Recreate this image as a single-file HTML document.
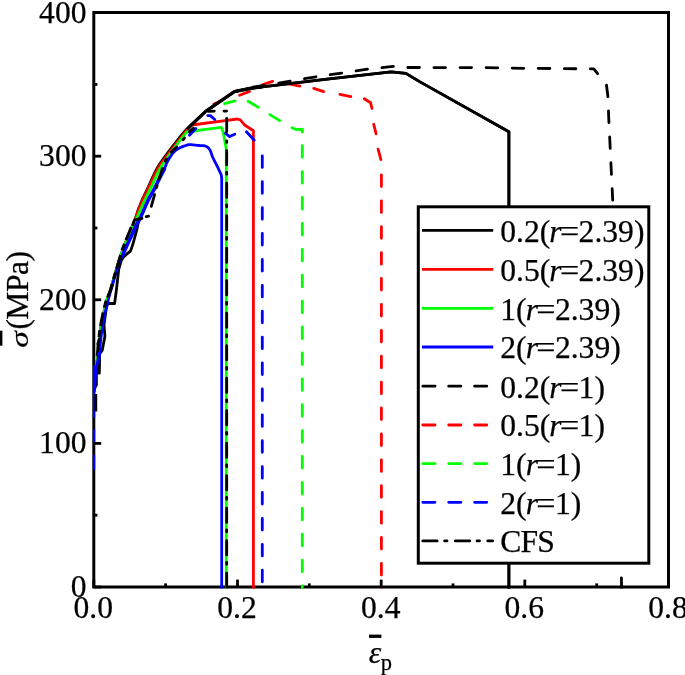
<!DOCTYPE html>
<html><head><meta charset="utf-8"><title>Stress-strain curves</title>
<style>
html,body{margin:0;padding:0;background:#fff;}
svg{display:block;}
text{font-family:"Liberation Serif",serif;font-size:31.6px;fill:#000;stroke:#000;stroke-width:0.25px;}
</style></head>
<body>
<svg width="685" height="675" viewBox="0 0 685 675">
<rect width="685" height="675" fill="#fff"/>
<defs><clipPath id="plotclip"><rect x="92.6" y="11" width="577.4" height="577.4"/></clipPath></defs>
<g id="axes">
<rect x="93.8" y="12.5" width="574.7" height="574.5" fill="none" stroke="#000" stroke-width="3.0"/>
<line x1="93.8" y1="587.0" x2="93.8" y2="579.6" stroke="#000" stroke-width="2.8"/>
<line x1="165.6" y1="587.0" x2="165.6" y2="583.4" stroke="#000" stroke-width="2.8"/>
<line x1="237.5" y1="587.0" x2="237.5" y2="579.6" stroke="#000" stroke-width="2.8"/>
<line x1="309.3" y1="587.0" x2="309.3" y2="583.4" stroke="#000" stroke-width="2.8"/>
<line x1="381.2" y1="587.0" x2="381.2" y2="579.6" stroke="#000" stroke-width="2.8"/>
<line x1="453.0" y1="587.0" x2="453.0" y2="583.4" stroke="#000" stroke-width="2.8"/>
<line x1="524.8" y1="587.0" x2="524.8" y2="579.6" stroke="#000" stroke-width="2.8"/>
<line x1="596.7" y1="587.0" x2="596.7" y2="583.4" stroke="#000" stroke-width="2.8"/>
<line x1="668.5" y1="587.0" x2="668.5" y2="579.6" stroke="#000" stroke-width="2.8"/>
<line x1="93.8" y1="587.0" x2="101.2" y2="587.0" stroke="#000" stroke-width="2.8"/>
<line x1="93.8" y1="515.2" x2="97.39999999999999" y2="515.2" stroke="#000" stroke-width="2.8"/>
<line x1="93.8" y1="443.4" x2="101.2" y2="443.4" stroke="#000" stroke-width="2.8"/>
<line x1="93.8" y1="371.6" x2="97.39999999999999" y2="371.6" stroke="#000" stroke-width="2.8"/>
<line x1="93.8" y1="299.8" x2="101.2" y2="299.8" stroke="#000" stroke-width="2.8"/>
<line x1="93.8" y1="228.0" x2="97.39999999999999" y2="228.0" stroke="#000" stroke-width="2.8"/>
<line x1="93.8" y1="156.2" x2="101.2" y2="156.2" stroke="#000" stroke-width="2.8"/>
<line x1="93.8" y1="84.4" x2="97.39999999999999" y2="84.4" stroke="#000" stroke-width="2.8"/>
<line x1="93.8" y1="12.6" x2="101.2" y2="12.6" stroke="#000" stroke-width="2.8"/>
</g>
<g id="curves" clip-path="url(#plotclip)">
<polyline points="94.5,388.0 96.4,385.0 96.4,372.7 99.3,373.0 99.6,360.2 99.6,354.0 102.2,350.4 104.9,336.2 104.0,325.0 106.0,310.0 107.5,303.5 114.6,303.5 116.4,290.0 118.7,269.3 121.3,260.4 123.5,256.9 130.6,250.9 133.1,243.5 136.9,229.4 139.0,218.7" fill="none" stroke="#000" stroke-width="2.8" stroke-linejoin="round" stroke-linecap="butt"/>
<polyline points="94.3,388.0 94.3,386.0 94.4,384.0 94.4,382.0 94.5,380.0 94.7,378.0 94.8,376.0 94.9,374.0 95.1,372.0 95.3,370.0 95.6,368.0 96.0,366.0 96.5,364.0 96.9,362.0 97.3,360.0 97.7,358.0 97.9,356.0 98.1,354.0 98.3,352.0 98.5,350.0 98.6,348.0 98.8,346.0 98.9,344.0 99.1,342.0 99.3,340.0 99.5,338.0 99.8,336.0 100.0,334.0 100.3,332.0 100.6,330.0 100.9,328.0 101.3,326.0 101.6,324.0 101.9,322.0 102.3,320.0 102.7,318.0 103.1,316.0 103.5,314.0 103.9,312.0 104.4,310.0 104.9,308.0 105.4,306.0 105.9,304.0 106.4,302.0 107.0,300.0 107.6,298.0 108.3,296.0 109.1,294.0 109.8,292.0 110.5,290.0 111.1,288.0 111.7,286.0 112.3,284.0 112.8,282.0 113.4,280.0 113.9,278.0 114.5,276.0 115.1,274.0 115.7,272.0 116.3,270.0 116.9,268.0 117.5,266.0 118.1,264.0 118.7,262.0 119.3,260.0 120.0,258.0 120.6,256.0 121.3,254.0 122.1,252.0 122.8,250.0 123.6,248.0 124.3,246.0 125.1,244.0 125.9,242.0 126.7,240.0 127.5,238.0 128.3,236.0 129.1,234.0 130.0,232.0 130.8,230.0 131.6,228.0 132.5,226.0 133.2,224.0 134.1,222.0 134.9,220.0 135.6,218.0 136.3,216.0 136.9,214.0 137.5,212.0 138.1,210.0 138.9,208.0 139.7,206.0 140.5,204.0 141.3,202.0 142.1,200.0 143.1,198.0 144.0,196.0 145.0,194.0 145.9,192.0 146.9,190.0 147.8,188.0 148.7,186.0 149.6,184.0 150.5,182.0 151.4,180.0 152.3,178.0 153.3,176.0 154.2,174.0 155.2,172.0 156.2,170.0 157.3,168.0 158.5,166.0 159.7,164.0 161.1,162.0 162.5,160.0 163.9,158.0 165.3,156.0 166.8,154.0 168.3,152.0 169.8,150.0 171.3,148.0 172.8,146.0 174.4,144.0 176.0,142.0 177.6,140.0 179.2,138.0 180.9,136.0 182.6,134.0 184.3,132.0 186.0,130.0 187.8,128.0 187.8,128.0 190.0,126.2 206.0,111.1 234.4,91.6 250.0,88.4 325.0,79.4 391.1,71.9 405.9,73.4 420.0,81.9 508.9,131.8 508.9,590.0" fill="none" stroke="#000" stroke-width="2.8" stroke-linejoin="round" stroke-linecap="butt"/>
<polyline points="94.3,388.0 94.3,386.0 94.4,384.0 94.4,382.0 94.5,380.0 94.7,378.0 94.8,376.0 94.9,374.0 95.1,372.0 95.3,370.0 95.6,368.0 96.0,366.0 96.5,364.0 96.9,362.0 97.3,360.0 97.7,358.0 97.9,356.0 98.1,354.0 98.3,352.0 98.5,350.0 98.6,348.0 98.8,346.0 98.9,344.0 99.1,342.0 99.3,340.0 99.5,338.0 99.8,336.0 100.0,334.0 100.3,332.0 100.6,330.0 100.9,328.0 101.3,326.0 101.6,324.0 101.9,322.0 102.3,320.0 102.7,318.0 103.1,316.0 103.5,314.0 103.9,312.0 104.4,310.0 104.9,308.0 105.4,306.0 105.9,304.0 106.4,302.0 107.0,300.0 107.6,298.0 108.3,296.0 109.1,294.0 109.8,292.0 110.5,290.0 111.1,288.0 111.7,286.0 112.3,284.0 112.8,282.0 113.4,280.0 113.9,278.0 114.5,276.0 115.1,274.0 115.7,272.0 116.3,270.0 116.9,268.0 117.5,266.0 118.1,264.0 118.7,262.0 119.3,260.0 120.0,258.0 120.6,256.0 121.3,254.0 122.1,252.0 122.8,250.0 123.6,248.0 124.3,246.0 125.1,244.0 125.9,242.0 126.7,240.0 127.5,238.0 128.3,236.0 129.1,234.0 130.0,232.0 130.8,230.0 131.6,228.0 132.5,226.0 133.3,224.0 134.1,222.0 135.0,220.0 135.7,218.0 136.4,216.0 137.0,214.0 137.7,212.0 138.4,210.0 139.1,208.0 140.0,206.0 140.8,204.0 141.6,202.0 142.5,200.0 143.5,198.0 144.5,196.0 145.5,194.0 146.5,192.0 147.5,190.0 148.4,188.0 149.4,186.0 150.3,184.0 151.3,182.0 152.2,180.0 153.1,178.0 154.1,176.0 155.1,174.0 156.1,172.0 157.2,170.0 158.3,168.0 159.5,166.0 160.8,164.0 162.2,162.0 163.6,160.0 165.1,158.0 166.6,156.0 168.1,154.0 169.6,152.0 171.1,150.0 172.7,148.0 174.3,146.0 175.8,144.0 177.5,142.0 179.0,140.0 180.6,138.0 182.1,136.0 183.7,134.0 185.3,132.0 187.0,130.0 187.0,130.0 192.0,125.0 225.0,120.6 237.3,119.0 240.3,119.8 245.0,125.3 253.4,130.7 253.4,590.0" fill="none" stroke="#f00" stroke-width="2.8" stroke-linejoin="round" stroke-linecap="butt"/>
<polyline points="94.3,388.0 94.3,386.0 94.4,384.0 94.4,382.0 94.5,380.0 94.7,378.0 94.8,376.0 94.9,374.0 95.1,372.0 95.3,370.0 95.6,368.0 96.0,366.0 96.5,364.0 96.9,362.0 97.3,360.0 97.7,358.0 97.9,356.0 98.1,354.0 98.3,352.0 98.5,350.0 98.6,348.0 98.8,346.0 98.9,344.0 99.1,342.0 99.3,340.0 99.5,338.0 99.8,336.0 100.0,334.0 100.3,332.0 100.6,330.0 100.9,328.0 101.3,326.0 101.6,324.0 101.9,322.0 102.3,320.0 102.7,318.0 103.1,316.0 103.5,314.0 103.9,312.0 104.4,310.0 104.9,308.0 105.4,306.0 105.9,304.0 106.4,302.0 107.0,300.0 107.6,298.0 108.3,296.0 109.1,294.0 109.8,292.0 110.5,290.0 111.1,288.0 111.7,286.0 112.3,284.0 112.8,282.0 113.4,280.0 113.9,278.0 114.5,276.0 115.1,274.0 115.7,272.0 116.3,270.0 116.9,268.0 117.5,266.0 118.1,264.0 118.7,262.0 119.3,260.0 120.0,258.0 120.6,256.0 121.3,254.0 122.1,252.0 122.8,250.0 123.6,248.0 124.3,246.0 125.1,244.0 125.9,242.0 126.7,240.0 127.5,238.0 128.3,236.0 129.1,234.0 130.0,232.0 130.8,230.0 131.6,228.0 132.5,226.0 133.5,224.0 134.7,222.0 135.8,220.0 136.8,218.0 137.7,216.0 138.6,214.0 139.5,212.0 140.4,210.0 141.3,208.0 142.1,206.0 143.0,204.0 144.0,202.0 144.9,200.0 145.9,198.0 146.9,196.0 147.8,194.0 148.8,192.0 149.8,190.0 150.8,188.0 151.7,186.0 152.6,184.0 153.5,182.0 154.5,180.0 155.4,178.0 156.3,176.0 157.3,174.0 158.3,172.0 159.4,170.0 160.5,168.0 161.7,166.0 162.9,164.0 164.3,162.0 165.7,160.0 167.1,158.0 168.5,156.0 169.9,154.0 171.4,152.0 172.8,150.0 174.3,148.0 175.8,146.0 177.3,144.0 178.8,142.0 180.3,140.0 181.9,138.0 183.5,136.0 185.1,134.0 186.7,132.0 186.7,132.0 189.6,132.1 200.0,130.1 221.3,127.3 223.1,131.9 224.9,141.3 226.3,149.6 226.3,590.0" fill="none" stroke="#0f0" stroke-width="2.8" stroke-linejoin="round" stroke-linecap="butt"/>
<polyline points="94.3,388.0 94.3,386.0 94.4,384.0 94.4,382.0 94.5,380.0 94.8,378.0 95.1,376.0 95.4,374.0 95.7,372.0 96.0,370.0 96.5,368.0 97.0,366.0 97.6,364.0 98.2,362.0 98.7,360.0 99.1,358.0 99.3,356.0 99.5,354.0 99.7,352.0 99.9,350.0 100.0,348.0 100.2,346.0 100.3,344.0 100.5,342.0 100.7,340.0 100.9,338.0 101.2,336.0 101.4,334.0 101.7,332.0 102.0,330.0 102.3,328.0 102.7,326.0 103.0,324.0 103.3,322.0 103.7,320.0 104.1,318.0 104.5,316.0 104.9,314.0 105.3,312.0 105.8,310.0 106.3,308.0 106.8,306.0 107.3,304.0 107.8,302.0 108.2,300.0 108.7,298.0 109.2,296.0 109.8,294.0 110.3,292.0 111.0,290.0 111.6,288.0 112.2,286.0 112.8,284.0 113.3,282.0 113.9,280.0 114.4,278.0 115.0,276.0 115.6,274.0 116.2,272.0 116.8,270.0 117.4,268.0 118.0,266.0 118.6,264.0 119.4,262.0 120.2,260.0 121.0,258.0 121.8,256.0 122.7,254.0 123.6,252.0 124.5,250.0 125.4,248.0 126.3,246.0 127.2,244.0 128.1,242.0 129.0,240.0 130.0,238.0 130.9,236.0 131.8,234.0 132.8,232.0 133.6,230.0 134.5,228.0 135.4,226.0 136.5,224.0 137.6,222.0 138.8,220.0 139.8,218.0 140.7,216.0 141.6,214.0 142.5,212.0 143.3,210.0 144.2,208.0 145.1,206.0 146.0,204.0 146.9,202.0 147.8,200.0 148.9,198.0 150.0,196.0 151.1,194.0 152.2,192.0 153.3,190.0 154.3,188.0 155.3,186.0 156.3,184.0 157.2,182.0 158.2,180.0 159.2,178.0 160.2,176.0 161.2,174.0 162.3,172.0 163.4,170.0 164.4,168.0 165.6,166.0 165.6,166.0 166.3,164.0 167.2,162.1 168.2,160.2 169.2,158.4 170.3,156.7 171.5,155.0 172.7,153.3 174.2,151.7 175.7,150.3 177.4,149.2 179.2,148.1 181.1,147.3 183.1,146.4 185.1,145.7 187.1,145.0 189.1,144.7 191.2,144.7 193.2,144.9 195.3,145.1 197.4,145.3 199.5,145.5 201.6,145.6 203.7,145.7 205.7,146.1 207.6,147.2 209.0,148.6 210.1,150.2 210.9,152.1 211.6,154.2 212.3,156.2 213.1,158.2 214.1,160.1 215.0,161.9 216.0,163.8 216.9,165.6 217.9,167.5 218.7,169.4 219.6,171.3 220.5,173.2 221.3,175.1 221.7,178.0 221.7,590.0" fill="none" stroke="#00f" stroke-width="2.8" stroke-linejoin="round" stroke-linecap="butt"/>
<polyline points="121.9,258.0 122.7,256.0 123.6,254.0 124.5,252.0 125.4,250.0 126.3,248.0 127.2,246.0 128.1,244.0 129.0,242.0 129.9,240.0 130.9,238.0 131.8,236.0 132.7,234.0 133.7,232.0 134.5,230.0 135.4,228.0 136.3,226.0 137.4,224.0 138.5,222.0 139.7,220.0 140.7,218.0 141.6,216.0 142.5,214.0 143.4,212.0 144.2,210.0 145.1,208.0 146.0,206.0 146.9,204.0 147.8,202.0 148.7,200.0 149.8,198.0 150.9,196.0 152.0,194.0 153.1,192.0 154.2,190.0 155.2,188.0 156.2,186.0 157.2,184.0 158.1,182.0 159.1,180.0 160.1,178.0 161.1,176.0 162.1,174.0 163.2,172.0 164.3,170.0 165.3,168.0 165.3,168.0" fill="none" stroke="#00f" stroke-width="2.8" stroke-linejoin="round" stroke-linecap="butt"/>
<polyline points="94.0,365.0 94.0,417.8" fill="none" stroke="#00f" stroke-width="2.3" stroke-linejoin="round" stroke-linecap="butt"/>
<polyline points="94.0,429.0 94.0,441.7" fill="none" stroke="#00f" stroke-width="2.3" stroke-linejoin="round" stroke-linecap="butt"/>
<polyline points="94.0,455.0 94.0,469.7" fill="none" stroke="#00f" stroke-width="2.3" stroke-linejoin="round" stroke-linecap="butt"/>
<polyline points="95.8,394.0 95.8,411.6" fill="none" stroke="#000" stroke-width="2.8" stroke-linejoin="round" stroke-linecap="butt"/>
<polyline points="98.5,359.7 98.5,374.0" fill="none" stroke="#000" stroke-width="2.8" stroke-linejoin="round" stroke-linecap="butt"/>
<polyline points="213.9,104.0 219.7,101.5" fill="none" stroke="#f00" stroke-width="2.8" stroke-linejoin="round" stroke-linecap="round"/>
<polyline points="239.6,95.3 249.6,91.4" fill="none" stroke="#f00" stroke-width="2.8" stroke-linejoin="round" stroke-linecap="round"/>
<polyline points="262.6,84.6 272.6,81.4" fill="none" stroke="#f00" stroke-width="2.8" stroke-linejoin="round" stroke-linecap="round"/>
<polyline points="288.6,83.8 299.9,86.2" fill="none" stroke="#f00" stroke-width="2.8" stroke-linejoin="round" stroke-linecap="round"/>
<polyline points="313.7,88.4 323.7,91.6" fill="none" stroke="#f00" stroke-width="2.8" stroke-linejoin="round" stroke-linecap="round"/>
<polyline points="339.9,94.3 350.8,96.6" fill="none" stroke="#f00" stroke-width="2.8" stroke-linejoin="round" stroke-linecap="round"/>
<polyline points="364.3,98.8 370.6,102.8 372.0,108.5" fill="none" stroke="#f00" stroke-width="2.8" stroke-linejoin="round" stroke-linecap="round"/>
<polyline points="373.7,124.3 376.1,133.9" fill="none" stroke="#f00" stroke-width="2.8" stroke-linejoin="round" stroke-linecap="round"/>
<polyline points="378.1,149.1 380.9,159.6" fill="none" stroke="#f00" stroke-width="2.8" stroke-linejoin="round" stroke-linecap="round"/>
<polyline points="381.4,174.9 381.4,590.0" fill="none" stroke="#f00" stroke-width="2.8" stroke-linejoin="round" stroke-linecap="round" stroke-dasharray="11.6 14.299999999999999" stroke-dashoffset="0.00"/>
<polyline points="224.5,103.7 235.1,100.9" fill="none" stroke="#0f0" stroke-width="2.8" stroke-linejoin="round" stroke-linecap="round"/>
<polyline points="248.1,101.3 258.2,107.3" fill="none" stroke="#0f0" stroke-width="2.8" stroke-linejoin="round" stroke-linecap="round"/>
<polyline points="269.8,114.6 279.7,120.6" fill="none" stroke="#0f0" stroke-width="2.8" stroke-linejoin="round" stroke-linecap="round"/>
<polyline points="291.9,127.8 295.7,129.4 302.3,129.5 302.3,132.1" fill="none" stroke="#0f0" stroke-width="2.8" stroke-linejoin="round" stroke-linecap="round"/>
<polyline points="302.3,145.7 302.3,590.0" fill="none" stroke="#0f0" stroke-width="2.8" stroke-linejoin="round" stroke-linecap="round" stroke-dasharray="11.6 14.299999999999999" stroke-dashoffset="0.00"/>
<polyline points="189.4,135.2 195.9,128.5" fill="none" stroke="#00f" stroke-width="2.8" stroke-linejoin="round" stroke-linecap="round"/>
<polyline points="207.8,115.6 210.4,115.6 214.8,119.5" fill="none" stroke="#00f" stroke-width="2.8" stroke-linejoin="round" stroke-linecap="round"/>
<polyline points="225.4,133.3 229.6,136.6 234.8,134.2" fill="none" stroke="#00f" stroke-width="2.8" stroke-linejoin="round" stroke-linecap="round"/>
<polyline points="246.5,131.7 254.2,140.3" fill="none" stroke="#00f" stroke-width="2.8" stroke-linejoin="round" stroke-linecap="round"/>
<polyline points="262.3,155.8 262.3,590.0" fill="none" stroke="#00f" stroke-width="2.8" stroke-linejoin="round" stroke-linecap="round" stroke-dasharray="11.6 14.299999999999999" stroke-dashoffset="0.00"/>
<polyline points="187.5,129.5 190.0,126.2 206.0,111.1 234.4,91.6 250.0,88.4 262.0,86.9" fill="none" stroke="#000" stroke-width="3.3" stroke-linejoin="round" stroke-linecap="butt"/>
<polyline points="234.4,91.6 250.0,88.4 325.0,79.4 391.1,71.9 405.9,73.4 420.0,81.9 508.9,131.8 508.9,590.0" fill="none" stroke="#000" stroke-width="2.8" stroke-linejoin="round" stroke-linecap="butt"/>
<polyline points="252.0,87.3 270.0,84.6 290.9,81.0 316.9,76.6 342.2,73.0 368.1,69.0 393.3,66.3 406.7,67.5 486.1,67.6 523.8,68.3 593.8,68.9 597.6,73.6" fill="none" stroke="#000" stroke-width="2.8" stroke-linejoin="round" stroke-linecap="round" stroke-dasharray="11.6 14.48" stroke-dashoffset="25.06"/>
<polyline points="606.5,85.2 608.0,97.1 608.6,115.0 612.7,200.0 613.5,230.0" fill="none" stroke="#000" stroke-width="2.8" stroke-linejoin="round" stroke-linecap="round" stroke-dasharray="11.6 14.299999999999999" stroke-dashoffset="0.00"/>
<polyline points="621.4,577.8 621.6,590.6" fill="none" stroke="#000" stroke-width="2.8" stroke-linejoin="round" stroke-linecap="round"/>
<polyline points="97.2,356.0 97.4,354.0 97.6,352.0 97.8,350.0 97.9,348.0 98.1,346.0 98.2,344.0 98.4,342.0 98.6,340.0 98.8,338.0 99.1,336.0 99.3,334.0 99.6,332.0 99.9,330.0 100.2,328.0 100.6,326.0 100.9,324.0 101.2,322.0 101.6,320.0 102.0,318.0 102.4,316.0 102.8,314.0 103.2,312.0 103.7,310.0 104.2,308.0 104.7,306.0 105.2,304.0 105.7,302.0 106.4,300.0 107.2,298.0 108.1,296.0 108.9,294.0 109.8,292.0 110.5,290.0 111.1,288.0 111.7,286.0 112.3,284.0 112.8,282.0 113.4,280.0 113.9,278.0 114.5,276.0 115.1,274.0 115.7,272.0 116.3,270.0 116.9,268.0 117.5,266.0 118.1,264.0 118.7,262.0 119.2,260.0 119.8,258.0 120.3,256.0 120.9,254.0 121.6,252.0 122.2,250.0 122.9,248.0 123.6,246.0 124.4,244.0 125.2,242.0 126.0,240.0 126.8,238.0 127.6,236.0 128.4,234.0 129.3,232.0 130.1,230.0 130.9,228.0 131.8,226.0 131.8,226.0" fill="none" stroke="#000" stroke-width="3.0" stroke-linejoin="round" stroke-linecap="butt" stroke-dasharray="14 5 7 4"/>
<polyline points="94.2,392.0 94.9,388.0 94.9,386.0 95.0,384.0 95.0,382.0 95.1,380.0 95.3,378.0 95.4,376.0 95.5,374.0 95.7,372.0 95.9,370.0 96.2,368.0 96.6,366.0 97.1,364.0 97.5,362.0 97.9,360.0 98.3,358.0 98.5,356.0 98.7,354.0 98.9,352.0 98.9,352.0" fill="none" stroke="#00f" stroke-width="2.8" stroke-linejoin="round" stroke-linecap="butt"/>
<polyline points="97.9,344.1 99.3,338.9" fill="none" stroke="#000" stroke-width="2.8" stroke-linejoin="round" stroke-linecap="round"/>
<polyline points="132.9,224.7 134.5,219.8 142.0,218.4" fill="none" stroke="#000" stroke-width="2.8" stroke-linejoin="round" stroke-linecap="round"/>
<polyline points="146.2,216.6 148.6,216.2" fill="none" stroke="#000" stroke-width="2.8" stroke-linejoin="round" stroke-linecap="round"/>
<polyline points="151.3,206.3 154.6,194.6" fill="none" stroke="#000" stroke-width="2.8" stroke-linejoin="round" stroke-linecap="round"/>
<polyline points="156.3,187.9 157.1,185.6" fill="none" stroke="#000" stroke-width="2.8" stroke-linejoin="round" stroke-linecap="round"/>
<polyline points="159.0,179.0 162.3,168.6" fill="none" stroke="#000" stroke-width="2.8" stroke-linejoin="round" stroke-linecap="round"/>
<polyline points="165.3,161.2 166.4,159.0" fill="none" stroke="#000" stroke-width="2.8" stroke-linejoin="round" stroke-linecap="round"/>
<polyline points="171.4,152.0 176.6,146.9" fill="none" stroke="#000" stroke-width="2.8" stroke-linejoin="round" stroke-linecap="round"/>
<polyline points="183.0,139.7 184.5,138.1" fill="none" stroke="#000" stroke-width="2.8" stroke-linejoin="round" stroke-linecap="round"/>
<polyline points="189.4,131.8 193.4,128.2" fill="none" stroke="#000" stroke-width="2.8" stroke-linejoin="round" stroke-linecap="round"/>
<polyline points="208.2,111.3 214.3,111.1" fill="none" stroke="#000" stroke-width="2.8" stroke-linejoin="round" stroke-linecap="round"/>
<polyline points="224.0,111.1 226.6,111.1" fill="none" stroke="#000" stroke-width="2.8" stroke-linejoin="round" stroke-linecap="round"/>
<polyline points="226.7,118.3 226.7,131.8" fill="none" stroke="#000" stroke-width="2.8" stroke-linejoin="round" stroke-linecap="round"/>
<polyline points="226.7,140.8 226.7,142.4" fill="none" stroke="#000" stroke-width="2.8" stroke-linejoin="round" stroke-linecap="round"/>
<polyline points="226.7,150.7 226.7,590.0" fill="none" stroke="#000" stroke-width="2.8" stroke-linejoin="round" stroke-linecap="round" stroke-dasharray="14.2 7.4 2 8.9" stroke-dashoffset="0.00"/>
</g>
<g id="legend">
<rect x="418.3" y="206.8" width="230.49999999999994" height="356.40000000000003" fill="#fff" stroke="#000" stroke-width="3.0"/>
<line x1="422" y1="230.3" x2="493.2" y2="230.3" stroke="#000" stroke-width="2.8"/>
<text x="500.3" y="241.7">0.2(<tspan font-style="italic" dx="-1">r</tspan><tspan dx="-1.6" textLength="19.2" lengthAdjust="spacingAndGlyphs">=</tspan><tspan dx="-0.6">2.39)</tspan></text>
<line x1="422" y1="269.3" x2="493.2" y2="269.3" stroke="#f00" stroke-width="2.8"/>
<text x="500.3" y="280.7">0.5(<tspan font-style="italic" dx="-1">r</tspan><tspan dx="-1.6" textLength="19.2" lengthAdjust="spacingAndGlyphs">=</tspan><tspan dx="-0.6">2.39)</tspan></text>
<line x1="422" y1="308.4" x2="493.2" y2="308.4" stroke="#0f0" stroke-width="2.8"/>
<text x="500.3" y="319.8">1(<tspan font-style="italic" dx="-1">r</tspan><tspan dx="-1.6" textLength="19.2" lengthAdjust="spacingAndGlyphs">=</tspan><tspan dx="-0.6">2.39)</tspan></text>
<line x1="422" y1="347.0" x2="493.2" y2="347.0" stroke="#00f" stroke-width="2.8"/>
<text x="500.3" y="358.4">2(<tspan font-style="italic" dx="-1">r</tspan><tspan dx="-1.6" textLength="19.2" lengthAdjust="spacingAndGlyphs">=</tspan><tspan dx="-0.6">2.39)</tspan></text>
<line x1="422.8" y1="386.2" x2="493" y2="386.2" stroke="#000" stroke-width="2.8" stroke-linecap="round" stroke-dasharray="12.2 13.7"/>
<text x="500.3" y="397.6">0.2(<tspan font-style="italic" dx="-1">r</tspan><tspan dx="-1.6" textLength="19.2" lengthAdjust="spacingAndGlyphs">=</tspan><tspan dx="-0.6">1)</tspan></text>
<line x1="422.8" y1="425.0" x2="493" y2="425.0" stroke="#f00" stroke-width="2.8" stroke-linecap="round" stroke-dasharray="12.2 13.7"/>
<text x="500.3" y="436.4">0.5(<tspan font-style="italic" dx="-1">r</tspan><tspan dx="-1.6" textLength="19.2" lengthAdjust="spacingAndGlyphs">=</tspan><tspan dx="-0.6">1)</tspan></text>
<line x1="422.8" y1="463.6" x2="493" y2="463.6" stroke="#0f0" stroke-width="2.8" stroke-linecap="round" stroke-dasharray="12.2 13.7"/>
<text x="500.3" y="475.0">1(<tspan font-style="italic" dx="-1">r</tspan><tspan dx="-1.6" textLength="19.2" lengthAdjust="spacingAndGlyphs">=</tspan><tspan dx="-0.6">1)</tspan></text>
<line x1="422.8" y1="502.3" x2="493" y2="502.3" stroke="#00f" stroke-width="2.8" stroke-linecap="round" stroke-dasharray="12.2 13.7"/>
<text x="500.3" y="513.7">2(<tspan font-style="italic" dx="-1">r</tspan><tspan dx="-1.6" textLength="19.2" lengthAdjust="spacingAndGlyphs">=</tspan><tspan dx="-0.6">1)</tspan></text>
<line x1="422.8" y1="540.9" x2="492.6" y2="540.9" stroke="#000" stroke-width="2.8" stroke-linecap="round" stroke-dasharray="14.4 7.4 2.4 8.3"/>
<text x="500.3" y="552.3" style="letter-spacing:-0.8px">CFS</text>
</g>
<g id="ticklabels">
<text x="93.3" y="617.8" text-anchor="middle">0.0</text>
<text x="237.0" y="617.8" text-anchor="middle">0.2</text>
<text x="380.7" y="617.8" text-anchor="middle">0.4</text>
<text x="524.3" y="617.8" text-anchor="middle">0.6</text>
<text x="668.0" y="617.8" text-anchor="middle">0.8</text>
<text x="86.5" y="597.0" text-anchor="end">0</text>
<text x="86.5" y="453.4" text-anchor="end">100</text>
<text x="86.5" y="309.8" text-anchor="end">200</text>
<text x="86.5" y="166.2" text-anchor="end">300</text>
<text x="86.5" y="22.6" text-anchor="end">400</text>
</g>
<g id="titles">

<g transform="translate(27.8,346.5) rotate(-90)"><text transform="translate(-1.3,0) scale(1.06,0.8)" font-style="italic">σ</text><text x="16.9" y="0" style="letter-spacing:-0.55px">(MPa)</text></g>
<rect x="-1" y="330.7" width="3.4" height="15" fill="#000"/>
<rect x="369" y="634.6" width="12.4" height="3.3" fill="#000"/>
<text x="368.7" y="663.2" font-style="italic">ε</text>
<text x="380.8" y="670.4" style="font-size:22.5px">p</text>

</g>
</svg>
</body></html>
